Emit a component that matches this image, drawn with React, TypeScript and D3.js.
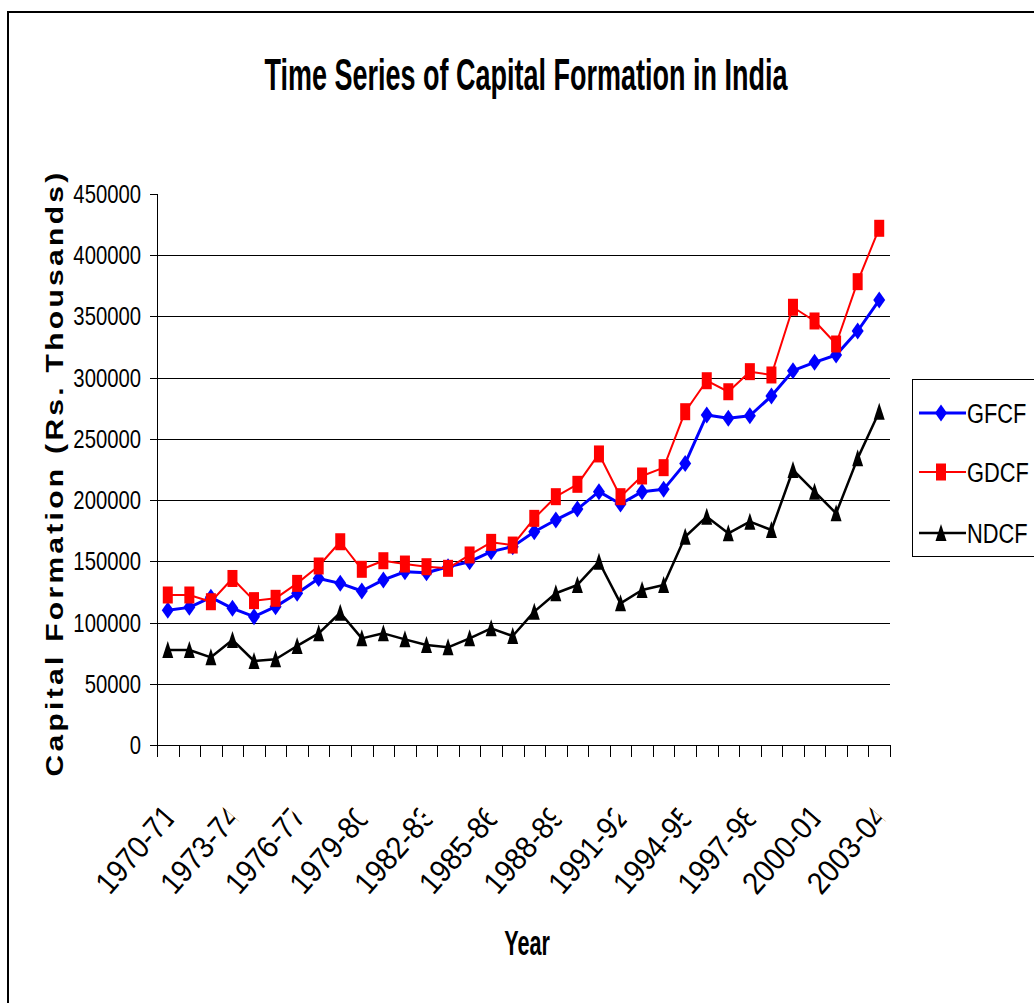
import React from "react";
import * as d3 from "d3";

const years = [
  "1970-71","1971-72","1972-73","1973-74","1974-75","1975-76","1976-77","1977-78","1978-79","1979-80",
  "1980-81","1981-82","1982-83","1983-84","1984-85","1985-86","1986-87","1987-88","1988-89","1989-90",
  "1990-91","1991-92","1992-93","1993-94","1994-95","1995-96","1996-97","1997-98","1998-99","1999-00",
  "2000-01","2001-02","2002-03","2003-04",
];
const shownYears = ["1970-71","1973-74","1976-77","1979-80","1982-83","1985-86","1988-89","1991-92","1994-95","1997-98","2000-01","2003-04"];

const gfcf = [110000,112400,120600,111600,104800,113000,123900,136000,132000,125800,134800,141500,140700,145600,149700,157900,162000,174200,183800,192700,206900,196800,206900,208800,230000,269500,266800,268900,285000,305700,312500,318500,338100,363400];
const gdcf = [122500,122500,117000,136000,117900,119800,132000,146200,166000,143500,150500,147800,145600,144300,155200,165500,163300,185100,202800,212900,237700,202800,219700,226500,272200,297500,288500,304900,302200,357500,346300,327500,378400,422000];
const ndcf = [77600,77600,71600,85800,68600,70000,80900,91200,108000,87100,91200,86300,81700,79800,87100,95300,89000,108900,123900,130700,149700,115700,126600,130700,170100,186500,172900,182400,175600,224600,206900,189200,234100,272200];

const yTicks = [0,50000,100000,150000,200000,250000,300000,350000,400000,450000];
const gridValues = [50000,100000,150000,200000,250000,300000,350000,400000];

const seriesNames = ["GFCF","GDCF","NDCF"];
const seriesColors = ["#0000ff","#ff0000","#000000"];
const seriesWidths = [3,2,2.5];

const FONT = "'Liberation Sans', Arial, sans-serif";

function Marker({ kind, x, y, color }: { kind: number; x: number; y: number; color: string }) {
  if (kind === 0) {
    return <path d={`M${x},${y - 8.5}L${x + 6},${y}L${x},${y + 8.5}L${x - 6},${y}Z`} fill={color} />;
  }
  if (kind === 1) {
    return <rect x={x - 5} y={y - 8.5} width={10} height={17} fill={color} />;
  }
  return <path d={`M${x},${y - 9}L${x + 5.5},${y + 8}L${x - 5.5},${y + 8}Z`} fill={color} />;
}

export default function App() {
  const L = 157, R = 890, B = 745, T = 194;
  const x = d3.scaleBand<string>().domain(years).range([L, R]);
  const y = d3.scaleLinear().domain([0, 450000]).range([B, T]);
  const cx = (d: string) => (x(d) as number) + x.bandwidth() / 2;
  const data = [gfcf, gdcf, ndcf];
  const line = d3.line<number>().x((_, i) => cx(years[i])).y((v) => y(v));

  const boundaries = d3.range(years.length + 1).map((i) => L + i * x.step());

  return (
    <svg width={1034} height={1003} style={{ position: "absolute", left: 0, top: 0, display: "block", background: "#fff" }} fontFamily={FONT}>
      <rect x={0} y={0} width={1034} height={1003} fill="#fff" />
      <rect x={8} y={12} width={1100} height={1100} fill="none" stroke="#000" strokeWidth={2} />

      {/* title */}
      <text transform="translate(526,90) scale(0.6,1)" textAnchor="middle" fontSize={45} fontWeight="bold">
        Time Series of Capital Formation in India
      </text>

      {/* grid */}
      {gridValues.map((v) => (
        <line key={v} x1={L} x2={R} y1={Math.round(y(v)) + 0.5} y2={Math.round(y(v)) + 0.5} stroke="#000" strokeWidth={1} />
      ))}

      {/* axes */}
      <line x1={L + 0.5} x2={L + 0.5} y1={T} y2={B} stroke="#000" strokeWidth={1} />
      <line x1={L} x2={R} y1={B + 0.5} y2={B + 0.5} stroke="#000" strokeWidth={1} />
      {yTicks.map((v) => (
        <g key={v}>
          <line x1={150} x2={L} y1={Math.round(y(v)) + 0.5} y2={Math.round(y(v)) + 0.5} stroke="#000" />
          <text transform={`translate(141,${y(v) + 9}) scale(0.78,1)`} textAnchor="end" fontSize={26}>
            {v}
          </text>
        </g>
      ))}
      {boundaries.map((bx, i) => (
        <line key={i} x1={Math.round(bx) + 0.5} x2={Math.round(bx) + 0.5} y1={B} y2={757} stroke="#000" />
      ))}

      {/* x labels */}
      <defs>
        <clipPath id="xclip">
          <rect x={-20} y={-40} width={124} height={60} />
        </clipPath>
      </defs>
      {shownYears.map((d) => (
        <text
          key={d}
          transform={`translate(${cx(d) - 58},896) rotate(-49) scale(0.95,1.05)`}
          fontSize={30}
          clipPath="url(#xclip)"
        >
          {d}
        </text>
      ))}

      {/* axis titles */}
      <text transform="translate(527,955) scale(0.6,1)" textAnchor="middle" fontSize={36} fontWeight="bold">
        Year
      </text>
      <text transform="translate(63,473) rotate(-90) scale(1,0.8)" textAnchor="middle" fontSize={30} fontWeight="bold" letterSpacing={3.3}>
        Capital Formation (Rs. Thousands)
      </text>

      {/* series */}
      {data.map((s, k) => (
        <g key={k}>
          <path d={line(s) as string} fill="none" stroke={seriesColors[k]} strokeWidth={seriesWidths[k]} strokeLinejoin="round" />
          {s.map((v, i) => (
            <Marker key={i} kind={k} x={cx(years[i])} y={y(v)} color={seriesColors[k]} />
          ))}
        </g>
      ))}

      {/* legend */}
      <rect x={912.5} y={379.5} width={140} height={177} fill="#fff" stroke="#000" strokeWidth={1} />
      {seriesNames.map((n, k) => {
        const ly = [413, 472, 533][k];
        return (
          <g key={n}>
            <line x1={919} x2={966} y1={ly} y2={ly} stroke={seriesColors[k]} strokeWidth={seriesWidths[k]} />
            <Marker kind={k} x={941} y={ly} color={seriesColors[k]} />
            <text transform={`translate(967,${ly + 10}) scale(0.78,1)`} fontSize={28}>
              {n}
            </text>
          </g>
        );
      })}
    </svg>
  );
}
